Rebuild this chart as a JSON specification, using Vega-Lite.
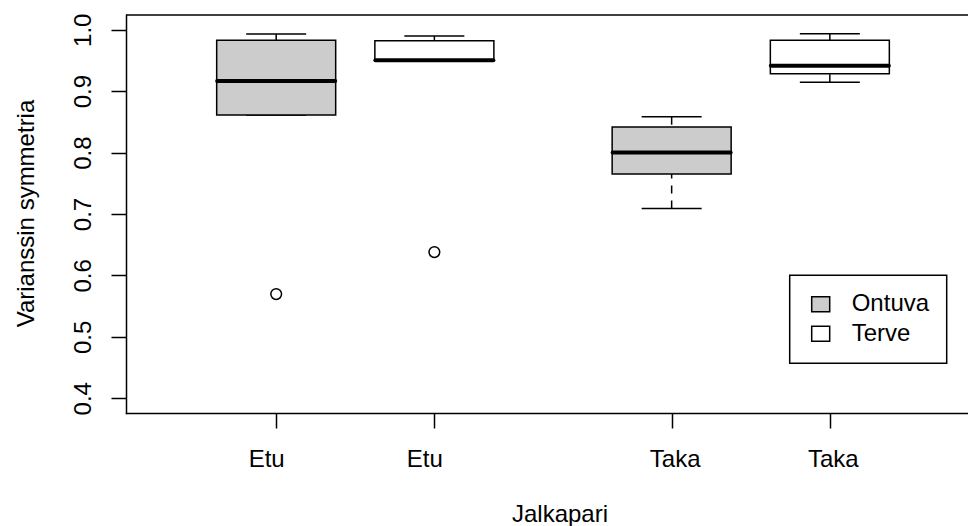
{
  "$schema": "https://vega.github.io/schema/vega-lite/v6.json",
  "width": 842,
  "height": 398,
  "autosize": {"type": "none"},
  "padding": {"left": 126, "top": 15, "right": 0, "bottom": 113},
  "background": "white",
  "config": {
    "view": {"stroke": null},
    "font": "Liberation Sans",
    "legend": {"strokeWidth": 1.5},
    "axis": {
      "grid": false,
      "domainColor": "black",
      "domainWidth": 1.5,
      "domainCap": "square",
      "tickColor": "black",
      "tickWidth": 1.5,
      "tickSize": 15,
      "labelColor": "black",
      "labelFont": "Liberation Sans",
      "labelFontSize": 24,
      "titleColor": "black",
      "titleFont": "Liberation Sans",
      "titleFontSize": 24,
      "titleFontWeight": "normal",
      "labelFlush": false,
      "labelOverlap": false
    }
  },
  "datasets": {
    "boxes": [
      {"pos": 1, "pair": "Etu", "group": "Ontuva", "lower": 0.861, "q1": 0.861, "median": 0.9165, "q3": 0.983, "upper": 0.993},
      {"pos": 2, "pair": "Etu", "group": "Terve", "lower": 0.950, "q1": 0.950, "median": 0.9505, "q3": 0.982, "upper": 0.990},
      {"pos": 3.5, "pair": "Taka", "group": "Ontuva", "lower": 0.709, "q1": 0.765, "median": 0.800, "q3": 0.8416, "upper": 0.8584},
      {"pos": 4.5, "pair": "Taka", "group": "Terve", "lower": 0.9144, "q1": 0.9284, "median": 0.9414, "q3": 0.983, "upper": 0.9935}
    ],
    "outliers": [
      {"pos": 1, "group": "Ontuva", "value": 0.5696},
      {"pos": 2, "group": "Terve", "value": 0.638}
    ]
  },
  "layer": [
    {
      "data": {"name": "boxes"},
      "mark": {"type": "rule", "strokeWidth": 1.5, "color": "black", "strokeDash": [8, 7]},
      "encoding": {
        "x": {"field": "pos", "type": "quantitative", "title": "Jalkapari", "scale": {"domain": [0.0506, 5.3734], "nice": false, "zero": false, "padding": 0}},
        "y": {"field": "lower", "type": "quantitative", "title": "Varianssin symmetria", "scale": {"domain": [0.376, 1.024], "nice": false, "zero": false, "padding": 0}},
        "y2": {"field": "q1"}
      }
    },
    {
      "data": {"name": "boxes"},
      "mark": {"type": "rule", "strokeWidth": 1.5, "color": "black", "strokeDash": [8, 7]},
      "encoding": {
        "x": {"field": "pos", "type": "quantitative", "title": "Jalkapari", "scale": {"domain": [0.0506, 5.3734], "nice": false, "zero": false, "padding": 0}},
        "y": {"field": "upper", "type": "quantitative", "title": "Varianssin symmetria", "scale": {"domain": [0.376, 1.024], "nice": false, "zero": false, "padding": 0}},
        "y2": {"field": "q3"}
      }
    },
    {
      "data": {"name": "boxes"},
      "mark": {"type": "rule", "strokeWidth": 1.5, "color": "black", "xOffset": -30, "x2Offset": 30},
      "encoding": {
        "x": {"field": "pos", "type": "quantitative", "title": "Jalkapari", "scale": {"domain": [0.0506, 5.3734], "nice": false, "zero": false, "padding": 0}},
        "x2": {"field": "pos"},
        "y": {"field": "lower", "type": "quantitative", "title": "Varianssin symmetria", "scale": {"domain": [0.376, 1.024], "nice": false, "zero": false, "padding": 0}}
      }
    },
    {
      "data": {"name": "boxes"},
      "mark": {"type": "rule", "strokeWidth": 1.5, "color": "black", "xOffset": -30, "x2Offset": 30},
      "encoding": {
        "x": {"field": "pos", "type": "quantitative", "title": "Jalkapari", "scale": {"domain": [0.0506, 5.3734], "nice": false, "zero": false, "padding": 0}},
        "x2": {"field": "pos"},
        "y": {"field": "upper", "type": "quantitative", "title": "Varianssin symmetria", "scale": {"domain": [0.376, 1.024], "nice": false, "zero": false, "padding": 0}}
      }
    },
    {
      "data": {"name": "boxes"},
      "mark": {"type": "bar", "width": 119, "stroke": "black", "strokeWidth": 1.5},
      "encoding": {
        "x": {
          "field": "pos", "type": "quantitative", "title": "Jalkapari",
          "scale": {"domain": [0.0506, 5.3734], "nice": false, "zero": false, "padding": 0},
          "axis": {
            "values": [1, 2, 3.5, 4.5],
            "labelExpr": "datum.value < 3 ? 'Etu' : 'Taka'",
            "labelBaseline": "alphabetic",
            "labelPadding": 38.7,
            "labelOffset": {"condition": {"test": "datum.value < 3", "value": -10}, "value": 3},
            "titleX": 433.5,
            "titleY": 108,
            "titleAlign": "center",
            "titleBaseline": "alphabetic"
          }
        },
        "y": {
          "field": "q1", "type": "quantitative", "title": "Varianssin symmetria",
          "scale": {"domain": [0.376, 1.024], "nice": false, "zero": false, "padding": 0},
          "axis": {
            "values": [0.4, 0.5, 0.6, 0.7, 0.8, 0.9, 1.0],
            "format": ".1f",
            "labelAngle": -90,
            "labelAlign": "center",
            "labelBaseline": "alphabetic",
            "labelPadding": 20.3,
            "titleAngle": -90,
            "titleX": -92.7,
            "titleY": 198,
            "titleAlign": "center",
            "titleBaseline": "alphabetic"
          }
        },
        "y2": {"field": "q3"},
        "fill": {
          "field": "group", "type": "nominal",
          "scale": {"domain": ["Ontuva", "Terve"], "range": ["#cccccc", "#ffffff"]},
          "legend": {
            "title": null,
            "orient": "none",
            "legendX": 663.7,
            "legendY": 260.3,
            "padding": 17,
            "strokeColor": "black",
            "fillColor": "white",
            "symbolType": "M-1,-0.83H1V0.83H-1Z",
            "symbolSize": 324,
            "symbolStrokeColor": "black",
            "symbolStrokeWidth": 1.5,
            "symbolOffset": 2,
            "labelOffset": 19,
            "rowPadding": 5.5,
            "labelFontSize": 24,
            "labelFont": "Liberation Sans",
            "labelColor": "black",
            "labelLimit": 0
          }
        }
      }
    },
    {
      "data": {"name": "boxes"},
      "mark": {"type": "rule", "strokeWidth": 4, "color": "black", "strokeCap": "round", "xOffset": -59, "x2Offset": 59},
      "encoding": {
        "x": {"field": "pos", "type": "quantitative", "title": "Jalkapari", "scale": {"domain": [0.0506, 5.3734], "nice": false, "zero": false, "padding": 0}},
        "x2": {"field": "pos"},
        "y": {"field": "median", "type": "quantitative", "title": "Varianssin symmetria", "scale": {"domain": [0.376, 1.024], "nice": false, "zero": false, "padding": 0}}
      }
    },
    {
      "data": {"name": "outliers"},
      "mark": {"type": "point", "shape": "circle", "filled": false, "color": "black", "strokeWidth": 1.5, "size": 115, "opacity": 1},
      "encoding": {
        "x": {"field": "pos", "type": "quantitative", "title": "Jalkapari", "scale": {"domain": [0.0506, 5.3734], "nice": false, "zero": false, "padding": 0}},
        "y": {"field": "value", "type": "quantitative", "title": "Varianssin symmetria", "scale": {"domain": [0.376, 1.024], "nice": false, "zero": false, "padding": 0}}
      }
    },
    {
      "data": {"values": [{}]},
      "mark": {"type": "rule", "strokeWidth": 1.5, "color": "black"},
      "encoding": {
        "y": {"datum": 1.024, "type": "quantitative", "title": "Varianssin symmetria", "scale": {"domain": [0.376, 1.024], "nice": false, "zero": false, "padding": 0}}
      }
    }
  ]
}
